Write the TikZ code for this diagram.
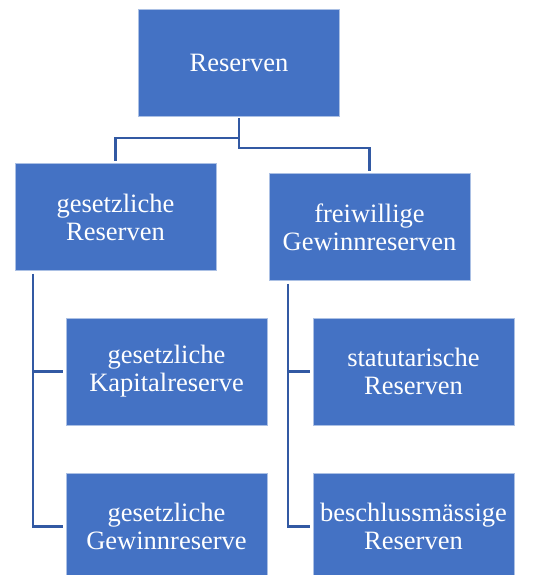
\documentclass[tikz,border=0pt]{standalone}
\usepackage{fontspec}
\setmainfont{Liberation Serif}
\usetikzlibrary{positioning,calc}
\definecolor{boxblue}{HTML}{4472C4}
\definecolor{lineblue}{HTML}{3259A3}
\tikzstyle{resbox} = [rectangle, minimum width=201pt, minimum height=107pt, inner sep=0pt, align=center, fill=boxblue, draw=white!55!boxblue, line width=0.6pt, text=white, font=\fontsize{26.5}{28}\selectfont]
\tikzstyle{link} = [lineblue, line width=2.1pt]

\begin{document}
\begin{tikzpicture}[x=1pt,y=-1pt]
\useasboundingbox (0,0) rectangle (557,575);
% oberste Ebene
\node (res) [resbox] at (239,62.5) {Reserven};
% zweite Ebene
\node (gres) [resbox] at (115.5,217) {gesetzliche\\Reserven};
\node (fres) [resbox] at (369.5,227) {freiwillige\\Gewinnreserven};
% dritte Ebene
\node (kap) [resbox] at (166.5,371.5) {gesetzliche\\Kapitalreserve};
\node (gew) [resbox] at (166.5,526.5) {gesetzliche\\Gewinnreserve};
\node (stat) [resbox] at (413.5,371.5) {statutarische\\Reserven};
\node (bes) [resbox] at (413.5,526.5) {beschlussmässige\\Reserven};
%\node (x) at (239,140) {};
\draw[link, shorten <=2pt, shorten >=2pt] (res.south) -- ++(0,22) -| (gres.north);
\draw[link, shorten <=2pt, shorten >=2pt] (res.south) -- ++(0,32) -| (fres.north);
\draw[link, shorten <=3pt, shorten >=3pt] ([xshift=18pt]gres.south west) |- (kap.west);
\draw[link, shorten <=3pt, shorten >=3pt] ([xshift=18pt]gres.south west) |- (gew.west);
\draw[link, shorten <=3pt, shorten >=3pt] ([xshift=19pt]fres.south west) |- (stat.west);
\draw[link, shorten <=3pt, shorten >=3pt] ([xshift=19pt]fres.south west) |- (bes.west);
\end{tikzpicture}
\end{document}
